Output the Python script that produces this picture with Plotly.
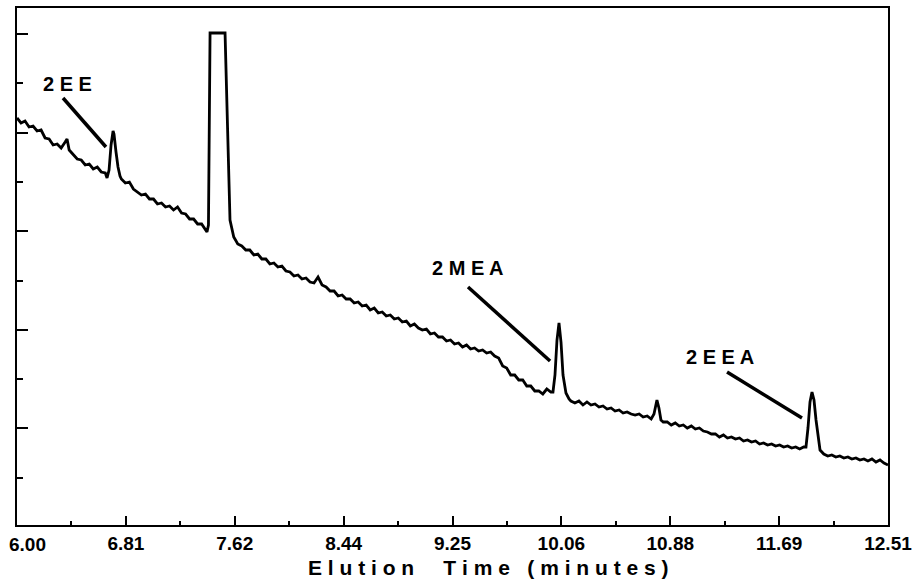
import plotly.graph_objects as go

# Elution time (minutes) and detector signal (arbitrary units)
time_min = [
    6.00, 6.03, 6.06, 6.09, 6.12, 6.15, 6.18, 6.21, 6.24, 6.27, 6.30, 6.33, 6.36, 6.374, 6.39, 6.42,
    6.45, 6.48, 6.51, 6.54, 6.57, 6.60, 6.63, 6.66,
    6.673, 6.688, 6.703, 6.718, 6.725, 6.740, 6.755, 6.770,
    6.78, 6.81, 6.84, 6.87, 6.90, 6.93, 6.96, 6.99, 7.02, 7.05, 7.08, 7.11, 7.14, 7.17, 7.20, 7.23,
    7.26, 7.29, 7.32, 7.35, 7.38, 7.41,
    7.420, 7.431, 7.439, 7.443, 7.555, 7.573, 7.592,
    7.62, 7.65, 7.68, 7.71, 7.74, 7.77, 7.80, 7.83, 7.86, 7.89, 7.92, 7.95, 7.98, 8.01, 8.04, 8.07,
    8.10, 8.13, 8.16, 8.19, 8.22, 8.25, 8.28, 8.31, 8.34, 8.37, 8.40, 8.43, 8.46, 8.49, 8.52, 8.55,
    8.58, 8.61, 8.64, 8.67, 8.70, 8.73, 8.76, 8.79, 8.82, 8.85, 8.88, 8.91, 8.94, 8.97, 9.00, 9.03,
    9.06, 9.09, 9.12, 9.15, 9.18, 9.21, 9.24, 9.27, 9.30, 9.33, 9.36, 9.39, 9.42, 9.45, 9.48, 9.51,
    9.54, 9.57, 9.60, 9.63, 9.66, 9.69, 9.72, 9.75, 9.78, 9.81, 9.84, 9.87, 9.90, 9.93, 9.96, 9.99,
    10.006, 10.021, 10.036, 10.051, 10.066, 10.081, 10.103, 10.126,
    10.14, 10.17, 10.20, 10.23, 10.26, 10.29, 10.32, 10.35, 10.38, 10.41, 10.44, 10.47, 10.50, 10.53,
    10.56, 10.59, 10.62, 10.65, 10.68, 10.71, 10.74,
    10.761, 10.783, 10.798, 10.813,
    10.83, 10.86, 10.89, 10.92, 10.95, 10.98, 11.01, 11.04, 11.07, 11.10, 11.13, 11.16, 11.19, 11.22,
    11.25, 11.28, 11.31, 11.34, 11.37, 11.40, 11.43, 11.46, 11.49, 11.52, 11.55, 11.58, 11.61, 11.64,
    11.67, 11.70, 11.73, 11.76, 11.79, 11.82, 11.85, 11.88,
    11.897, 11.912, 11.927, 11.942, 11.957, 11.972, 11.987, 12.002,
    12.03, 12.06, 12.09, 12.12, 12.15, 12.18, 12.21, 12.24, 12.27, 12.30, 12.33, 12.36, 12.39, 12.42,
    12.45, 12.48, 12.51,
]

signal = [
    40.9, 40.4, 40.6, 40.0, 40.1, 39.6, 39.7, 38.9, 38.8, 38.2, 38.3, 37.9, 38.5, 38.8, 37.7, 37.3,
    36.8, 36.7, 36.2, 36.3, 35.8, 36.0, 35.5, 35.4,
    34.9, 35.7, 38.2, 39.6, 39.3, 37.5, 36.0, 35.1,
    34.8, 34.4, 34.5, 33.8, 33.5, 33.2, 33.3, 32.8, 32.8, 32.3, 32.4, 32.0, 32.1, 31.7, 32.0, 31.4,
    31.3, 30.8, 30.8, 30.3, 30.3, 29.7,
    29.5, 30.2, 40.7, 49.4, 49.4, 40.2, 30.7,
    29.0, 28.3, 28.1, 27.7, 27.7, 27.2, 27.3, 26.8, 26.8, 26.3, 26.4, 26.0, 26.1, 25.6, 25.5, 25.1,
    25.2, 24.8, 24.9, 24.5, 24.4, 25.0, 24.2, 24.0, 23.6, 23.6, 23.1, 23.2, 22.8, 22.8, 22.4, 22.5,
    22.1, 22.2, 21.7, 21.9, 21.4, 21.5, 21.1, 21.2, 20.8, 20.9, 20.5, 20.6, 20.1, 20.3, 19.9, 19.7,
    19.8, 19.3, 19.4, 19.0, 19.0, 18.6, 18.7, 18.3, 18.4, 18.0, 18.2, 17.8, 17.9, 17.6, 17.7, 17.4,
    17.5, 17.1, 16.9, 16.1, 15.9, 15.2, 15.2, 14.7, 14.7, 14.1, 14.1, 13.6, 13.6, 13.3, 13.8, 13.5,
    13.5, 15.2, 18.7, 20.4, 18.5, 15.2, 13.4, 12.8,
    12.6, 12.4, 12.6, 12.2, 12.5, 12.2, 12.3, 12.0, 12.1, 11.8, 11.9, 11.6, 11.7, 11.4,
    11.5, 11.3, 11.2, 11.3, 11.0, 11.1, 10.8,
    11.3, 12.7, 11.9, 10.7,
    10.5, 10.5, 10.2, 10.4, 10.1, 10.2, 9.9, 10.1, 9.8, 9.9, 9.6, 9.5, 9.3, 9.3,
    9.0, 9.2, 8.9, 9.0, 8.8, 8.9, 8.6, 8.7, 8.5, 8.6, 8.3, 8.4, 8.2, 8.3,
    8.1, 8.2, 8.0, 8.1, 7.9, 8.0, 7.8, 8.0,
    8.0, 9.9, 12.5, 13.5, 12.7, 10.7, 8.9, 7.7,
    7.3, 7.1, 7.2, 7.0, 7.1, 6.9, 7.0, 6.8, 6.9, 6.7, 6.8, 6.6, 6.8, 6.5,
    6.7, 6.4, 6.2,
]

x_tick_values = [6.00, 6.81375, 7.6275, 8.44125, 9.255, 10.06875, 10.8825, 11.69625, 12.51]
x_tick_labels = ["6.00", "6.81", "7.62", "8.44", "9.25", "10.06", "10.88", "11.69", "12.51"]

peak_names = ["2 E E", "2 M E A", "2 E E A"]
label_time = [6.374, 9.371, 11.254]
label_signal = [44.3, 25.9, 17.0]
pointer_start = [(6.344, 42.9), (9.371, 24.0), (11.307, 15.5)]
pointer_end = [(6.665, 38.0), (9.984, 16.6), (11.867, 10.9)]

FONT = "Liberation Sans, Arial, sans-serif"
TICK_FONT = dict(family=FONT, size=19, color="black", weight="bold")

fig = go.Figure()
fig.add_trace(go.Scatter(
    x=time_min, y=signal, mode="lines",
    line=dict(color="black", width=2.8),
    hoverinfo="skip", showlegend=False,
))

for name, tx, sy in zip(peak_names, label_time, label_signal):
    fig.add_annotation(
        x=tx, y=sy, xref="x", yref="y", text=name, showarrow=False,
        font=dict(family=FONT, size=20, color="black", weight="bold"),
        xanchor="center", yanchor="middle",
    )

for (x0, y0), (x1, y1) in zip(pointer_start, pointer_end):
    fig.add_shape(type="line", xref="x", yref="y", x0=x0, y0=y0, x1=x1, y1=y1,
                  line=dict(color="black", width=3.5))

# first tick label sits just right of the axis corner (as in the original plot)
fig.add_annotation(
    x=x_tick_values[0], y=0, xref="x", yref="paper", text=x_tick_labels[0], showarrow=False,
    font=TICK_FONT, xanchor="left", yanchor="middle", xshift=-10, yshift=-19,
)

title_text = "E l u t i o n\u00a0\u00a0\u00a0\u00a0\u00a0T i m e\u00a0\u00a0\u00a0( m i n u t e s )"
fig.add_annotation(
    x=0.541, y=-0.083, xref="paper", yref="paper", text=title_text, showarrow=False,
    font=dict(family=FONT, size=21, color="black", weight="bold"),
    xanchor="center", yanchor="middle",
)

fig.update_xaxes(
    range=[6.0, 12.51], tickmode="array", tickvals=x_tick_values,
    ticktext=[""] + x_tick_labels[1:],
    ticks="inside", ticklen=9, tickwidth=2, tickcolor="black",
    minor=dict(tick0=6.0, dtick=0.406875, ticks="inside", ticklen=4, tickwidth=2, tickcolor="black"),
    showline=True, linecolor="black", linewidth=2, mirror=True,
    showgrid=False, zeroline=False, automargin=False,
    tickfont=TICK_FONT,
    ticklabelstandoff=0, ticklabeloverflow="allow",
)
fig.update_yaxes(
    range=[0.2, 51.9], tick0=0, dtick=9.86,
    ticks="inside", ticklen=11, tickwidth=2, tickcolor="black",
    minor=dict(tick0=0, dtick=4.93, ticks="inside", ticklen=6, tickwidth=2, tickcolor="black"),
    showticklabels=False, automargin=False,
    showline=True, linecolor="black", linewidth=2, mirror=True,
    showgrid=False, zeroline=False,
)

fig.update_layout(
    width=923, height=585,
    margin=dict(l=17, r=35, t=8, b=60, autoexpand=False),
    plot_bgcolor="white", paper_bgcolor="white",
    showlegend=False,
)

fig.write_html("out.html")
